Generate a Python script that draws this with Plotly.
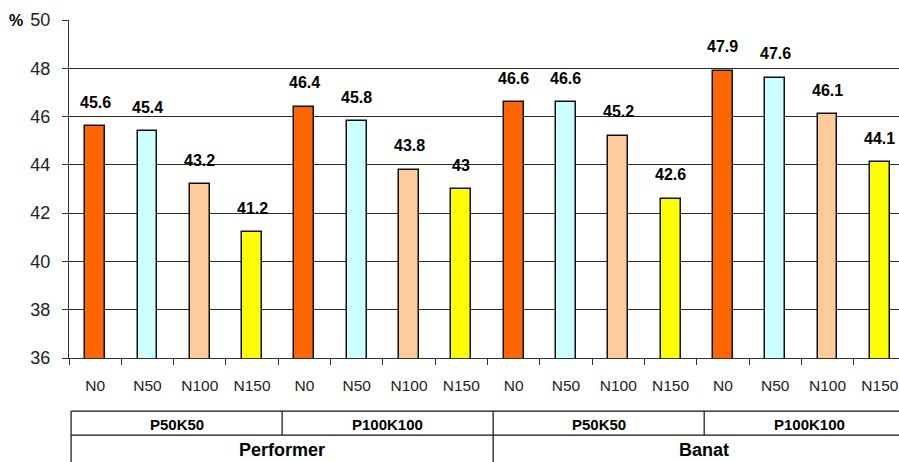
import plotly.graph_objects as go

# Nitrogen doses, fertiliser backgrounds and varieties
doses = ["N0", "N50", "N100", "N150"]
backgrounds = ["P50K50", "P100K100", "P50K50", "P100K100"]
varieties = ["Performer", "Banat"]

# Values per bar (%), in order of variety -> background -> dose
values = [45.6, 45.4, 43.2, 41.2,
          46.4, 45.8, 43.8, 43.0,
          46.6, 46.6, 45.2, 42.6,
          47.9, 47.6, 46.1, 44.1]

dose_colors = ["#FF6600", "#CCFFFF", "#FFCC99", "#FFFF00"]

FONT = "Liberation Sans, Arial, sans-serif"

n = len(values)
xs = list(range(n))
tick_text = [doses[i % len(doses)] for i in xs]
colors = [dose_colors[i % len(doses)] for i in xs]

fig = go.Figure()
fig.add_trace(go.Bar(
    x=xs, y=values,
    width=0.38,
    marker=dict(color=colors, line=dict(color="#111111", width=1.5)),
    hoverinfo="skip",
))

# value labels above the bars
for x, v in zip(xs, values):
    fig.add_annotation(
        x=x, y=v, xref="x", yref="y",
        text=f"<b>{v:g}</b>", showarrow=False,
        yanchor="middle", yshift=24,
        font=dict(family=FONT, size=16, color="#000000"),
    )

# "%" unit marker beside the top tick
fig.add_annotation(
    x=0, y=1, xref="paper", yref="paper",
    text="<b>%</b>", showarrow=False,
    xanchor="left", yanchor="middle", xshift=-62,
    font=dict(family=FONT, size=16, color="#000000"),
)

# grouping table under the axis
def tx(u):
    # table column scale in x data units
    return -0.46 + u * 1.0085

line_style = dict(color="#111111", width=1.2)
row1_top, row_mid, row2_bot = -0.157, -0.228, -0.4
x_end = n + 1

fig.add_shape(type="line", xref="x", yref="paper", x0=tx(0), x1=x_end,
              y0=row1_top, y1=row1_top, line=line_style)
fig.add_shape(type="line", xref="x", yref="paper", x0=tx(0), x1=x_end,
              y0=row_mid, y1=row_mid, line=line_style)
fig.add_shape(type="line", xref="x", yref="paper", x0=tx(0), x1=tx(0),
              y0=row1_top, y1=row2_bot, line=line_style)

group_size = len(doses)
for k, bg in enumerate(backgrounds):
    left = tx(k * group_size)
    right = tx((k + 1) * group_size)
    if k > 0:
        full = (k * group_size) % (group_size * 2) == 0
        fig.add_shape(type="line", xref="x", yref="paper", x0=left, x1=left,
                      y0=row1_top, y1=row2_bot if full else row_mid, line=line_style)
    fig.add_annotation(
        x=(left + right) / 2, y=(row1_top + row_mid) / 2, xref="x", yref="paper",
        text=f"<b>{bg}</b>", showarrow=False, yanchor="middle", yshift=-1,
        font=dict(family=FONT, size=15, color="#000000"),
    )

var_size = group_size * 2
for j, name in enumerate(varieties):
    left = tx(j * var_size)
    right = tx((j + 1) * var_size)
    fig.add_annotation(
        x=(left + right) / 2, y=row_mid, xref="x", yref="paper",
        text=f"<b>{name}</b>", showarrow=False, yanchor="top", yshift=-3,
        font=dict(family=FONT, size=18, color="#000000"),
    )

fig.update_layout(
    width=899, height=462,
    margin=dict(l=69, r=0, t=20, b=104),
    paper_bgcolor="white", plot_bgcolor="white",
    showlegend=False,
    bargap=0,
)

fig.update_xaxes(
    range=[-0.5, n - 0.5 - 7 / 52.3],
    tickmode="array", tickvals=xs, ticktext=tick_text,
    ticks="", ticklabelstandoff=13,
    showgrid=False, zeroline=False,
    showline=True, linecolor="#333333", linewidth=1,
    tickfont=dict(family=FONT, size=15.5, color="#222222"),
    minor=dict(tickmode="linear", tick0=-0.5, dtick=1, ticks="outside",
               ticklen=6, tickcolor="#333333", tickwidth=1, showgrid=False),
)

fig.update_yaxes(
    range=[36, 50], tick0=36, dtick=2,
    ticks="outside", ticklen=6, tickcolor="#333333",
    ticklabelstandoff=8,
    showgrid=True, gridcolor="#2a2a2a", gridwidth=1,
    zeroline=False,
    showline=True, linecolor="#333333", linewidth=1,
    tickfont=dict(family=FONT, size=18, color="#222222"),
)

fig.write_html("out.html")
